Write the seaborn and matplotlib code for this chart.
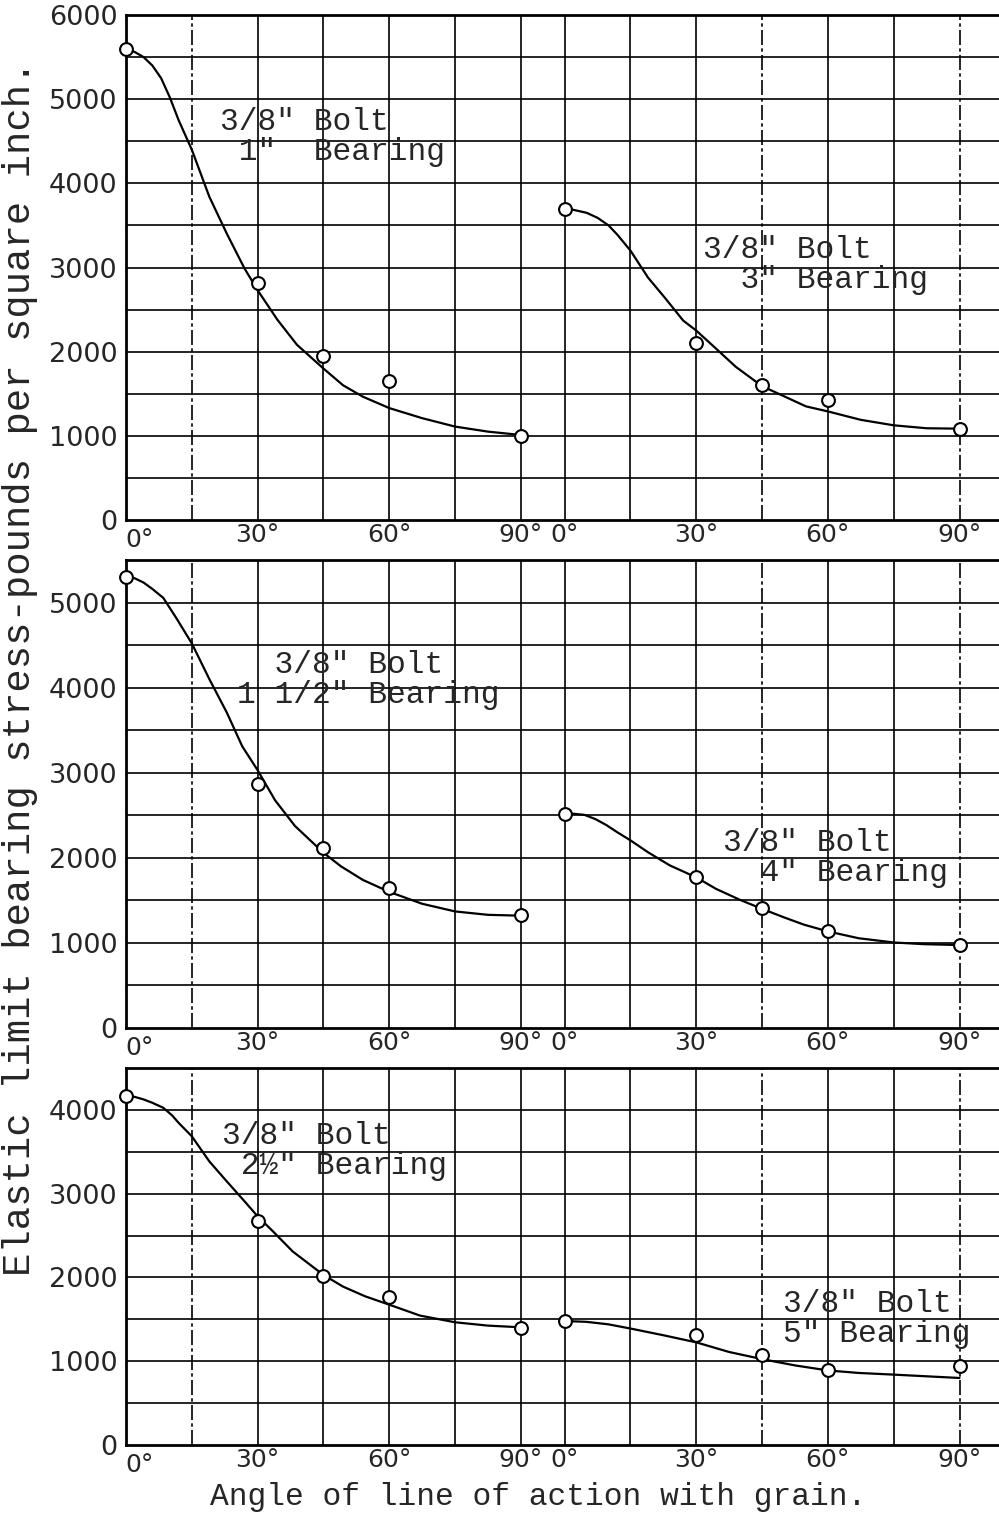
import numpy as np
import pandas as pd
import matplotlib
matplotlib.use("Agg")
import matplotlib.pyplot as plt
from matplotlib.transforms import ScaledTranslation
import seaborn as sns

# ---------------- data ----------------
RIGHT_OFFSET = 100          # right-hand 0..90 degree block starts here on the shared x axis

pt_angles = [0, 30, 45, 60, 90]
# test points (psi)
p1_left = [5600, 2820, 1950, 1650, 1000]   # 3/8" bolt, 1" bearing
p1_right = [3700, 2100, 1600, 1430, 1080]  # 3/8" bolt, 3" bearing
p2_left = [5300, 2870, 2120, 1640, 1330]   # 3/8" bolt, 1 1/2" bearing
p2_right = [2520, 1770, 1410, 1140, 970]   # 3/8" bolt, 4" bearing
p3_left = [4170, 2670, 2020, 1765, 1400]   # 3/8" bolt, 2 1/2" bearing
p3_right = [1480, 1310, 1080, 900, 940]    # 3/8" bolt, 5" bearing

# faired curves (angle, psi)
c1l_ang = [0, 2, 4, 6, 8, 10, 12, 15, 19, 23, 27, 30, 34.5, 39, 45, 49.5, 54, 60, 67.5, 75, 82.5, 90]
c1l_val = [5600, 5560, 5500, 5400, 5250, 5020, 4750, 4400, 3840, 3400, 2990, 2730, 2380, 2080, 1800, 1600, 1465, 1330, 1210, 1110, 1050, 1010]
c1r_ang = [0, 2, 5, 7.5, 10, 12, 15, 19, 23, 27, 30, 34, 39, 45, 50, 55, 60, 67.5, 75, 82.5, 90]
c1r_val = [3700, 3685, 3650, 3590, 3500, 3390, 3200, 2880, 2630, 2370, 2250, 2060, 1820, 1590, 1470, 1350, 1290, 1190, 1125, 1090, 1085]
c2l_ang = [0, 2, 4, 6, 8.5, 11.5, 15, 19, 23, 26.5, 30, 34, 38.5, 45, 49, 54, 60, 67.5, 75, 82.5, 90]
c2l_val = [5310, 5285, 5235, 5160, 5055, 4815, 4520, 4100, 3705, 3310, 3030, 2675, 2375, 2060, 1900, 1740, 1600, 1460, 1370, 1330, 1320]
c2r_ang = [0, 2, 4.5, 7, 9.5, 12, 15, 19, 24, 30, 34.5, 40, 45, 50, 54.5, 60, 67, 75, 82, 90]
c2r_val = [2520, 2518, 2505, 2455, 2385, 2300, 2205, 2065, 1910, 1770, 1635, 1505, 1400, 1300, 1215, 1135, 1055, 1005, 985, 975]
c3l_ang = [0, 2, 4, 6, 8.5, 10.5, 12, 15, 19, 23, 27, 30, 33.5, 38, 45, 49.5, 54.5, 60, 67, 75, 82.5, 90]
c3l_val = [4170, 4155, 4125, 4085, 4025, 3935, 3845, 3685, 3385, 3145, 2910, 2730, 2550, 2310, 2030, 1890, 1775, 1675, 1545, 1465, 1425, 1405]
c3r_ang = [0, 5, 10, 15, 22.5, 30, 37.5, 45, 52.5, 60, 67, 75, 82.5, 90]
c3r_val = [1480, 1470, 1440, 1390, 1310, 1225, 1110, 1025, 950, 890, 860, 840, 820, 800]

xtick_pos = [0, 30, 60, 90, RIGHT_OFFSET, RIGHT_OFFSET + 30, RIGHT_OFFSET + 60, RIGHT_OFFSET + 90]
xtick_labels = ["0°", "30°", "60°", "90°", "0°", "30°", "60°", "90°"]

panels = [
    dict(ymax=6000, yticks=list(range(0, 6001, 1000)),
         pts=(p1_left, p1_right), curves=((c1l_ang, c1l_val), (c1r_ang, c1r_val)),
         notes=[("3/8\" Bolt\n 1\"  Bearing", 21.4, 4555), ("3/8\" Bolt\n  3\" Bearing", 131.5, 3025)]),
    dict(ymax=5500, yticks=list(range(0, 5001, 1000)),
         pts=(p2_left, p2_right), curves=((c2l_ang, c2l_val), (c2r_ang, c2r_val)),
         notes=[("  3/8\" Bolt\n1 1/2\" Bearing", 25.3, 4085), ("3/8\" Bolt\n  4\" Bearing", 136.0, 2000)]),
    dict(ymax=4500, yticks=list(range(0, 4001, 1000)),
         pts=(p3_left, p3_right), curves=((c3l_ang, c3l_val), (c3r_ang, c3r_val)),
         notes=[("3/8\" Bolt\n 2½\" Bearing", 21.9, 3515), ("3/8\" Bolt\n5\" Bearing", 149.7, 1505)]),
]

# ---------------- styling ----------------
sns.set_style("white")
plt.rcParams["font.family"] = ["DejaVu Sans"]
MONO = ["Liberation Mono", "DejaVu Sans Mono"]

W, H = 999, 1514
fig = plt.figure(figsize=(W / 100, H / 100), dpi=100)

# axes boxes in pixels: (top, bottom)
boxes = [(15, 520), (560, 1028), (1068, 1445)]
left_px = 126

grid_left = list(range(0, 91, 15))
grid_right = [RIGHT_OFFSET + a for a in range(0, 91, 15)]
dashed = {15, RIGHT_OFFSET + 45, RIGHT_OFFSET + 90}

for (top, bot), P in zip(boxes, panels):
    ax = fig.add_axes([left_px / W, 1 - bot / H, 1 - left_px / W, (bot - top) / H])
    ax.set_xlim(0, 199)
    ax.set_ylim(0, P["ymax"])

    # graph-paper grid
    for yv in np.arange(500, P["ymax"], 500):
        ax.axhline(yv, color="black", lw=1.2, zorder=1)
    for xv in grid_left + grid_right:
        if xv == 0:
            continue
        ls = (0, (9, 2, 2, 2)) if xv in dashed else "-"
        ax.axvline(xv, color="black", lw=1.2, ls=ls, zorder=1)

    # faired curves
    for k, (ang, val) in enumerate(P["curves"]):
        off = 0 if k == 0 else RIGHT_OFFSET
        df = pd.DataFrame({"x": [a + off for a in ang], "y": val})
        sns.lineplot(data=df, x="x", y="y", sort=False, estimator=None,
                     color="black", lw=1.6, ax=ax, zorder=3)
    # test points
    for k, vals in enumerate(P["pts"]):
        off = 0 if k == 0 else RIGHT_OFFSET
        dfp = pd.DataFrame({"x": [a + off for a in pt_angles], "y": vals})
        sns.scatterplot(data=dfp, x="x", y="y", marker="o", s=85,
                        facecolor="white", edgecolor="black", linewidth=1.5,
                        ax=ax, zorder=4, clip_on=False)

    for txt, xv, yv in P["notes"]:
        ax.text(xv, yv, txt, family=MONO, fontsize=22.5, ha="left", va="center",
                linespacing=1.0, zorder=5)

    ax.set_xticks(xtick_pos)
    ax.set_xticklabels(xtick_labels)
    ax.set_yticks(P["yticks"])
    ax.set_yticklabels([str(v) for v in P["yticks"]])
    ax.tick_params(axis="both", length=0)
    ax.tick_params(axis="x", pad=2, labelsize=18)
    ax.tick_params(axis="y", pad=6, labelsize=19.5)
    # the first "0°" sits a little right of and below the "0" of the stress scale
    first = ax.get_xticklabels()[0]
    first.set_transform(first.get_transform() + ScaledTranslation(0.14, -0.05, fig.dpi_scale_trans))
    ax.set_xlabel("")
    ax.set_ylabel("")
    for side in ("left", "bottom", "top"):
        ax.spines[side].set_color("black")
        ax.spines[side].set_linewidth(2.0)
    ax.spines["right"].set_visible(False)

fig.text(538 / W, 1 - 1497 / H, "Angle of line of action with grain.",
         family=MONO, fontsize=22.5, ha="center", va="center")
fig.text(20 / W, 1 - 668 / H, "Elastic limit bearing stress-pounds per square inch.",
         family=MONO, fontsize=28, ha="center", va="center", rotation=90)

fig.savefig("out.png", dpi=100)
